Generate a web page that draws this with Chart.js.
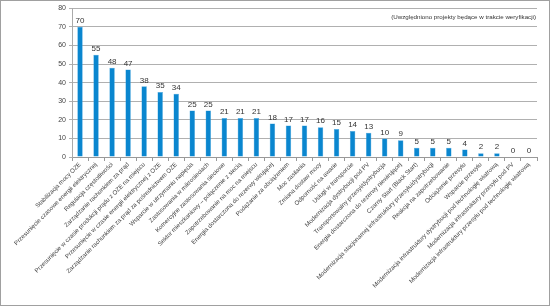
<!DOCTYPE html>
<html>
<head>
<meta charset="utf-8">
<script src="https://cdn.jsdelivr.net/npm/chart.js@4"></script>
<style>
    body { margin: 0; background: #fff; }
    #ramka { width: 550px; height: 306px; box-sizing: border-box; border: 1px solid #a0a0a0; position: relative; }
</style>
</head>
<body>
<div id="ramka"><canvas id="wykres"></canvas></div>
<script>
const kategorie = [
    'Stabilizacja mocy OZE',
    'Przesunięcie czasowe energii elektrycznej',
    'Regulacja częstotliwości',
    'Zarządzanie rachunkiem za prąd',
    'Przesunięcie w czasie produkcji prądu z OZE na miejscu',
    'Przesunięcie w czasie energii elektrycznej z OZE',
    'Zarządzanie rachunkiem za prąd za pośrednictwem OZE',
    'Wsparcie w utrzymaniu napięcia',
    'Zastosowania w mikrosieciach',
    'Komercyjne zastosowania sieciowe',
    'Sektor mieszkaniowy – połączenie z siecią',
    'Zapotrzebowanie na moc na miejscu',
    'Energia dostarczona do rezerwy wirującej',
    'Podążanie za obciążeniem',
    'Moc zasilania',
    'Zmiana dostaw mocy',
    'Odporność na awarie',
    'Usługi w transporcie',
    'Modernizacja dystrybucji pod PV',
    'Transportowalny przesył/dystrybucja',
    'Energia dostarczona do rezerwy niewirującej',
    'Czarny Start (Black Start)',
    'Modernizacja stacjonarnej infrastruktury przesyłu/dystrybucji',
    'Reakcja na zapotrzebowanie',
    'Odciążenie przesyłu',
    'Wsparcie przesyłu',
    'Modernizacja infrastruktury dystrybucji pod technologię wiatrową',
    'Modernizacja infrastruktury przesyłu pod PV',
    'Modernizacja infrastruktury przesyłu pod technologię wiatrową'
];
const liczbaProjektow = [70, 55, 48, 47, 38, 35, 34, 25, 25, 21, 21, 21, 18, 17, 17, 16, 15, 14, 13, 10, 9, 5, 5, 5, 4, 2, 2, 0, 0];
const uwaga = '(Uwzględniono projekty będące w trakcie weryfikacji)';

const czcionka = "'Liberation Sans', Arial, sans-serif";

// wartosci nad slupkami + dopisek w prawym gornym rogu
const etykiety = {
    id: 'etykiety',
    afterDatasetsDraw(chart) {
        const ctx = chart.ctx;
        const meta = chart.getDatasetMeta(0);
        ctx.save();
        ctx.font = '8px ' + czcionka;
        ctx.fillStyle = '#333';
        ctx.textAlign = 'center';
        ctx.textBaseline = 'bottom';
        meta.data.forEach((bar, i) => {
            ctx.fillText(liczbaProjektow[i], bar.x, bar.y - 2);
        });
        ctx.font = '6.2px ' + czcionka;
        ctx.textAlign = 'right';
        ctx.textBaseline = 'middle';
        ctx.fillText(uwaga, chart.chartArea.right - 1, chart.scales.y.getPixelForValue(75));
        ctx.restore();
    }
};

new Chart(document.getElementById('wykres'), {
    type: 'bar',
    data: {
        labels: kategorie,
        datasets: [{
            data: liczbaProjektow,
            backgroundColor: '#0a86cf',
            borderColor: '#4aa8e0',
            borderWidth: 0.5,
            barPercentage: 0.34,
            categoryPercentage: 1
        }]
    },
    options: {
        responsive: true,
        maintainAspectRatio: false,
        animation: false,
        layout: { padding: { top: 6, right: 12, left: 0, bottom: 0 } },
        plugins: {
            legend: { display: false },
            tooltip: { enabled: false }
        },
        scales: {
            x: {
                afterFit: s => { s.height = 148; },
                grid: { drawOnChartArea: false, drawTicks: true, tickLength: 4, color: '#999', offset: true },
                border: { color: '#999' },
                ticks: {
                    autoSkip: false,
                    maxRotation: 45,
                    minRotation: 45,
                    padding: 0,
                    color: '#444',
                    font: { size: 6.1, family: czcionka }
                }
            },
            y: {
                min: 0,
                max: 80,
                afterFit: s => { s.width = 71; },
                grid: { color: '#b0b0b0', drawTicks: true, tickLength: 3 },
                border: { color: '#aaa' },
                ticks: {
                    stepSize: 10,
                    padding: 3,
                    color: '#444',
                    font: { size: 7, family: czcionka }
                }
            }
        }
    },
    plugins: [etykiety]
});
</script>
</body>
</html>
